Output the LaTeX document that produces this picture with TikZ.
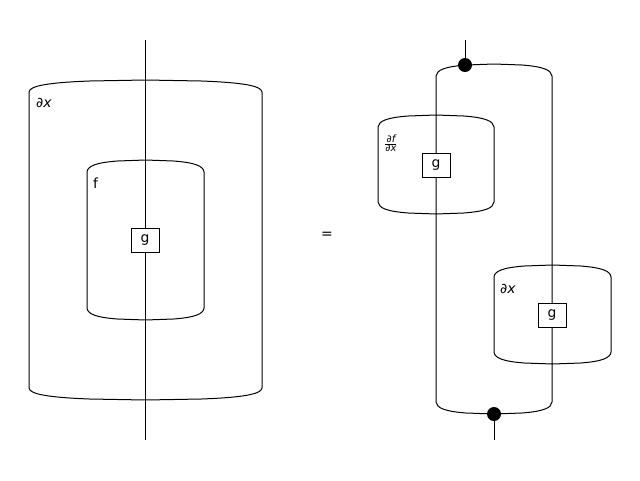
\documentclass[tikz,border=0pt]{standalone}
\usepackage{fontspec}
\setmainfont{DejaVu Sans}
\newcommand\barrel[4]{%
\pgfmathsetmacro\bs{0.26*(#2-#1)}%
\pgfmathsetmacro\bm{(#1+#2)/2}%
\pgfmathsetmacro\bh{(\bm-#1-\bs)/2}%
\draw[wire] (#1,{#3+12}) .. controls ({#1+0.5},{#3+6}) and ({#1+0.3*\bs},{#3+2.6}) .. ({#1+\bs},{#3+1})
 .. controls ({#1+\bs+\bh},{#3+0.2}) and ({\bm-\bh},{#3}) .. (\bm,{#3})
 .. controls ({\bm+\bh},{#3}) and ({#2-\bs-\bh},{#3+0.2}) .. ({#2-\bs},{#3+1})
 .. controls ({#2-0.3*\bs},{#3+2.6}) and ({#2-0.5},{#3+6}) .. (#2,{#3+12})
 -- (#2,{#4-12})
 .. controls ({#2-0.5},{#4-6}) and ({#2-0.3*\bs},{#4-2.6}) .. ({#2-\bs},{#4-1})
 .. controls ({#2-\bs-\bh},{#4-0.2}) and ({\bm+\bh},{#4}) .. (\bm,{#4})
 .. controls ({\bm-\bh},{#4}) and ({#1+\bs+\bh},{#4-0.2}) .. ({#1+\bs},{#4-1})
 .. controls ({#1+0.3*\bs},{#4-2.6}) and ({#1+0.5},{#4-6}) .. (#1,{#4-12}) -- cycle;}
\begin{document}
\begin{tikzpicture}[x=1pt,y=-1pt,
  wire/.style={line width=1pt,black},
  gbox/.style={draw,line width=1pt,fill=white,minimum width=28pt,minimum height=24pt,inner sep=0pt,font=\fontsize{13.9}{16}\selectfont},
  lbl/.style={anchor=west,inner sep=0pt,font=\fontsize{13.9}{16}\selectfont},
  dot/.style={circle,fill=black,minimum size=14pt,inner sep=0pt}]
\useasboundingbox (0,0) rectangle (640,480);
% left side
\barrel{29}{262}{80}{400}
\barrel{87}{204}{160}{320}
\coordinate (lt) at (145,40);
\coordinate (lb) at (145,440);
\node[gbox] (g1) at (145,240) {g};
\draw[wire] (lt) -- (g1.north);
\draw[wire] (g1.south) -- (lb);
\node[lbl] (l1) at (36,103) {\itshape ∂x};
\node[lbl] (l2) at (93,183) {f};
% equals
\node[font=\fontsize{13.9}{16}\selectfont] (eq) at (327,235) {=};
% right side
\barrel{436}{552}{64}{414}
\barrel{378}{494}{115}{214}
\barrel{494}{611}{265}{364}
\node[gbox] (g2) at (436,165) {g};
\node[gbox] (g3) at (552,315) {g};
\node[dot] (d1) at (465,65) {};
\node[dot] (d2) at (494,414) {};
\coordinate (rt) at (465,40);
\coordinate (rb) at (494,440);
\draw[wire] (rt) -- (d1.center);
\draw[wire] (d2.center) -- (rb);
\node[lbl] (l3) at (384,143.5) {\fontsize{10}{10}\selectfont$\frac{\hbox{\itshape ∂f}}{\hbox{\itshape ∂x}}$};
\node[lbl] (l4) at (500,289) {\itshape ∂x};
\end{tikzpicture}
\end{document}
